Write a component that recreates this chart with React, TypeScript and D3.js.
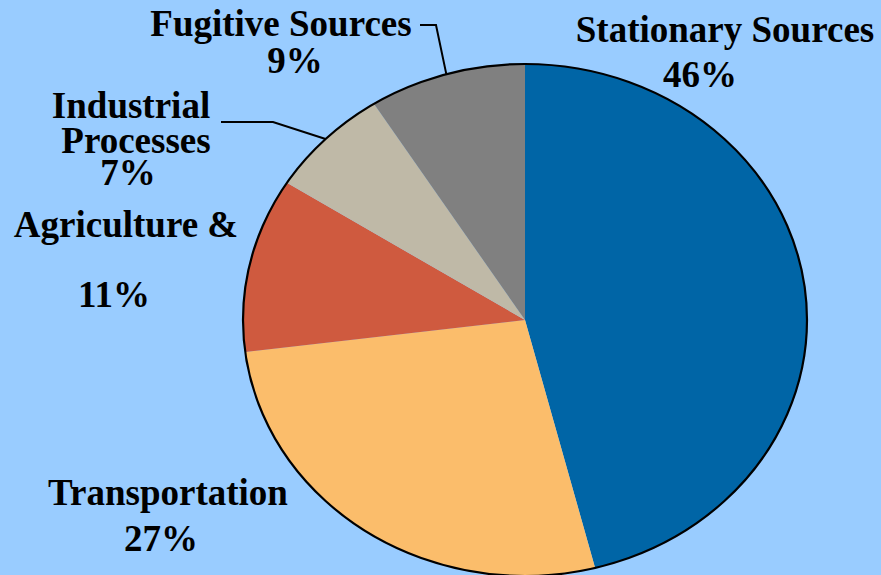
import React from 'react';
import * as d3 from 'd3';

const categories = ['Stationary Sources', 'Transportation', 'Agriculture &', 'Industrial Processes', 'Fugitive Sources'];
const shares = [46, 27, 11, 7, 9];
const colors = ['#0065a6', '#fbbd6b', '#cf5a3f', '#bfb9a7', '#808080'];

// label lines and where they sit
const labelLines = [
  [{ t: 'Stationary Sources', x: 725, y: 42 }, { t: '46%', x: 700, y: 87 }],
  [{ t: 'Transportation', x: 168, y: 505 }, { t: '27%', x: 161, y: 551 }],
  [{ t: 'Agriculture &', x: 126, y: 237 }, { t: '11%', x: 114, y: 307 }],
  [{ t: 'Industrial', x: 131, y: 118 }, { t: 'Processes', x: 136, y: 153 }, { t: '7%', x: 128, y: 185 }],
  [{ t: 'Fugitive Sources', x: 281, y: 36 }, { t: '9%', x: 295, y: 73 }],
];
// leader lines: start and elbow, end is on the pie edge
const leaders: { [k: number]: [number, number][] } = {
  3: [[221, 122], [273, 122]],
  4: [[420, 25], [436, 25]],
};

const W = 881, H = 575;
const cx = 525, cy = 320, R = 256, sx = 282 / 256;

const App = () => {
  const pie = d3.pie<number>().value(d => d).sort(null);
  const arcs = pie(shares);
  const arc = d3.arc<d3.PieArcDatum<number>>().innerRadius(0).outerRadius(R);

  const edgePoint = (a: d3.PieArcDatum<number>): [number, number] => {
    const m = (a.startAngle + a.endAngle) / 2;
    return [cx + R * sx * Math.sin(m), cy - R * Math.cos(m)];
  };

  return (
    <svg width={W} height={H} style={{ position: 'absolute', left: 0, top: 0, display: 'block' }}>
      <rect width={W} height={H} fill="#99ccff" />
      <g transform={`translate(${cx} ${cy}) scale(${sx} 1)`}>
        {arcs.map((a, i) => (
          <path key={i} d={arc(a) || ''} fill={colors[i]} />
        ))}
        <ellipse rx={R} ry={R} fill="none" stroke="#000" strokeWidth={2.2} vectorEffect="non-scaling-stroke" />
      </g>
      {Object.keys(leaders).map(k => {
        const i = +k;
        const pts = [...leaders[i], edgePoint(arcs[i])];
        return <path key={k} d={d3.line()(pts) || ''} fill="none" stroke="#000" strokeWidth={2} />;
      })}
      <g style={{ fontFamily: '"Liberation Serif", "DejaVu Serif", serif' }} fontWeight="bold" fontSize={37} textAnchor="middle" fill="#000">
        {labelLines.map((lines, i) => (
          <g key={categories[i]}>
            {lines.map((l, j) => (
              <text key={j} x={l.x} y={l.y}>{l.t}</text>
            ))}
          </g>
        ))}
      </g>
    </svg>
  );
};

export default App;
